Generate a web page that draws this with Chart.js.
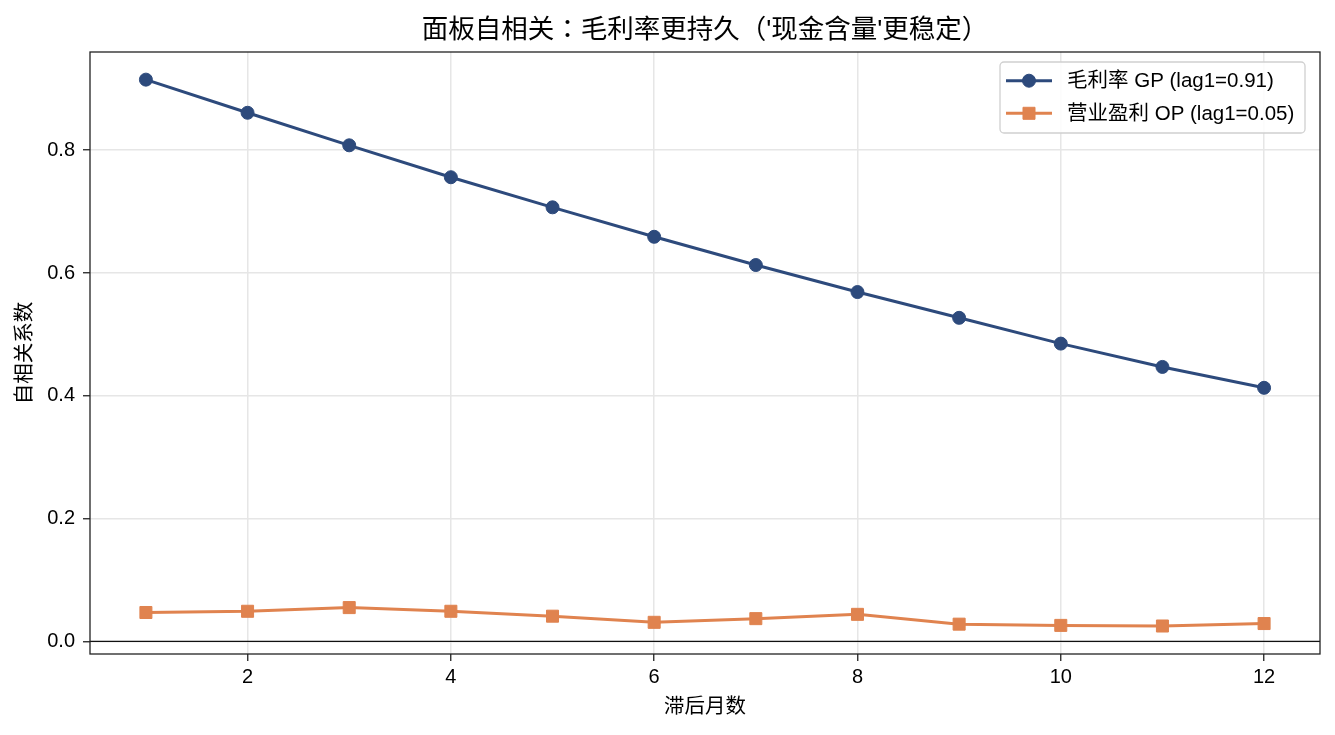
<!DOCTYPE html>
<html>
<head>
<meta charset="utf-8">
<script src="https://cdn.jsdelivr.net/npm/chart.js@4/dist/chart.umd.min.js"></script>
<style>
  html, body { margin: 0; padding: 0; background: #fff; }
  #wrap { width: 1335px; height: 735px; }
</style>
</head>
<body>
<div id="wrap"><canvas id="c" width="1335" height="735"></canvas></div>
<script>
// ---- data ----
const lags = [1, 2, 3, 4, 5, 6, 7, 8, 9, 10, 11, 12];
const gpAcf = [0.915, 0.861, 0.808, 0.756, 0.707, 0.659, 0.613, 0.569, 0.527, 0.485, 0.447, 0.413];
const opAcf = [0.047, 0.049, 0.055, 0.049, 0.041, 0.031, 0.037, 0.044, 0.028, 0.026, 0.025, 0.029];
const gpLabel = '毛利率 GP (lag1=0.91)';
const opLabel = '营业盈利 OP (lag1=0.05)';
const xTicks = [2, 4, 6, 8, 10, 12];
const yTicks = [0.0, 0.2, 0.4, 0.6, 0.8];
const titleText = '面板自相关：毛利率更持久（\'现金含量\'更稳定）';
const xTitle = '滞后月数';
const yTitle = '自相关系数';

const FONT = "'Liberation Sans', Arial, 'Noto Sans CJK SC', sans-serif";
const TITLE_FONT = "'Liberation Sans', Arial, 'Noto Sans CJK TC', sans-serif";
const GP_COLOR = '#2d4a7c';
const OP_COLOR = '#e0834f';

const zeroLine = {
  id: 'zeroLine',
  beforeDatasetsDraw(chart) {
    const {ctx, chartArea, scales} = chart;
    const y = scales.y.getPixelForValue(0);
    ctx.save();
    ctx.strokeStyle = '#111';
    ctx.lineWidth = 1.3;
    ctx.beginPath();
    ctx.moveTo(chartArea.left, y);
    ctx.lineTo(chartArea.right, y);
    ctx.stroke();
    ctx.restore();
  }
};

const frame = {
  id: 'frame',
  afterDatasetsDraw(chart) {
    const {ctx, chartArea: a} = chart;
    ctx.save();
    ctx.strokeStyle = '#222';
    ctx.lineWidth = 1.3;
    ctx.strokeRect(a.left, a.top, a.right - a.left, a.bottom - a.top);
    ctx.restore();
  }
};

const legendBox = {
  id: 'legendBox',
  afterDraw(chart) {
    const {ctx} = chart;
    const x0 = 1000, y0 = 62, w = 305, h = 71;
    ctx.save();
    ctx.fillStyle = 'rgba(255,255,255,0.85)';
    ctx.strokeStyle = '#d0d0d0';
    ctx.lineWidth = 1.3;
    ctx.beginPath();
    ctx.roundRect(x0, y0, w, h, 4);
    ctx.fill();
    ctx.stroke();
    const rows = [80.7, 113.3];
    chart.data.datasets.forEach((ds, i) => {
      const y = rows[i];
      ctx.strokeStyle = ds.borderColor;
      ctx.lineWidth = ds.borderWidth;
      ctx.beginPath();
      ctx.moveTo(1006, y);
      ctx.lineTo(1052, y);
      ctx.stroke();
      ctx.fillStyle = ds.backgroundColor;
      ctx.strokeStyle = ds.borderColor;
      ctx.lineWidth = 1;
      Chart.helpers.drawPoint(ctx, {pointStyle: ds.pointStyle, radius: ds.pointRadius, borderWidth: 1}, 1029, y);
      ctx.fillStyle = '#000';
      ctx.font = '20.5px ' + FONT;
      ctx.textBaseline = 'middle';
      ctx.textAlign = 'left';
      ctx.fillText(ds.label, 1067, y + 1);
    });
    ctx.restore();
  }
};

new Chart(document.getElementById('c'), {
  type: 'line',
  data: {
    datasets: [
      {
        label: gpLabel,
        data: lags.map((x, i) => ({x, y: gpAcf[i]})),
        borderColor: GP_COLOR,
        backgroundColor: GP_COLOR,
        borderWidth: 3,
        pointStyle: 'circle',
        pointRadius: 6.5,
        pointBorderWidth: 1,
        tension: 0
      },
      {
        label: opLabel,
        data: lags.map((x, i) => ({x, y: opAcf[i]})),
        borderColor: OP_COLOR,
        backgroundColor: OP_COLOR,
        borderWidth: 3,
        pointStyle: 'rect',
        pointRadius: 8.5,
        pointBorderWidth: 1,
        tension: 0
      }
    ]
  },
  options: {
    responsive: false,
    animation: false,
    devicePixelRatio: 1,
    layout: { padding: { left: 0, right: 15, top: 0, bottom: 0 }, autoPadding: false },
    plugins: {
      legend: { display: false },
      tooltip: { enabled: false },
      title: {
        display: true,
        text: titleText,
        fullSize: false,
        color: '#000',
        font: { family: TITLE_FONT, size: 26.5, weight: 'normal', lineHeight: 1.2 },
        padding: { top: 14.5, bottom: 5.7 }
      }
    },
    scales: {
      x: {
        type: 'linear',
        min: 0.45,
        max: 12.55,
        afterFit(s) { s.height = 81; },
        afterBuildTicks(s) { s.ticks = xTicks.map(v => ({value: v})); },
        ticks: {
          color: '#000',
          font: { family: FONT, size: 20 },
          padding: 4,
          maxRotation: 0,
          callback: v => String(v)
        },
        grid: {
          color: '#e6e6e6',
          lineWidth: 1.5,
          tickColor: '#222',
          tickWidth: 1.3,
          tickLength: 7
        },
        border: { display: false },
        title: {
          display: true,
          text: xTitle,
          color: '#000',
          font: { family: FONT, size: 20.5 },
          padding: { top: 0, bottom: 15 }
        }
      },
      y: {
        type: 'linear',
        min: -0.0206,
        max: 0.96,
        afterFit(s) { s.width = 90; },
        afterBuildTicks(s) { s.ticks = yTicks.map(v => ({value: v})); },
        ticks: {
          color: '#000',
          font: { family: FONT, size: 20 },
          padding: 8,
          callback: v => Number(v).toFixed(1)
        },
        grid: {
          color: '#e6e6e6',
          lineWidth: 1.5,
          tickColor: '#222',
          tickWidth: 1.3,
          tickLength: 7
        },
        border: { display: false },
        title: {
          display: true,
          text: yTitle,
          color: '#000',
          font: { family: FONT, size: 20.5 },
          padding: { top: 13, bottom: 0 }
        }
      }
    }
  },
  plugins: [zeroLine, frame, legendBox]
});
</script>
</body>
</html>
